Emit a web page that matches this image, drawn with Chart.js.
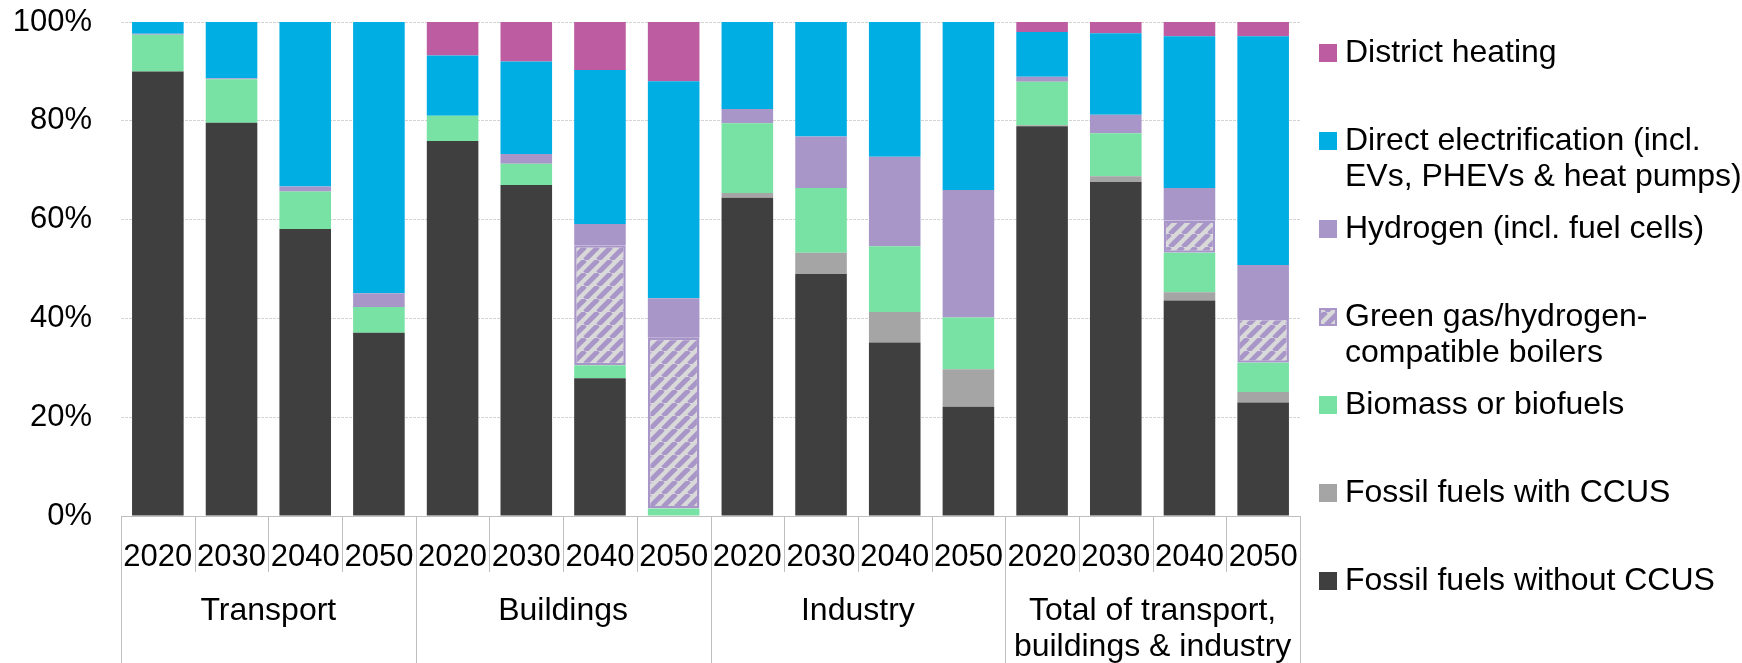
<!DOCTYPE html>
<html>
<head>
<meta charset="utf-8">
<script src="https://cdn.jsdelivr.net/npm/chart.js@4"></script>
<style>
  html, body { margin: 0; padding: 0; background: #fff; }
  canvas { display: block; }
</style>
</head>
<body>
<canvas id="myChart" width="1742" height="663"></canvas>
<script>
const years = ['2020', '2030', '2040', '2050'];
const sectors = ['Transport', 'Buildings', 'Industry', 'Total of transport,\nbuildings & industry'];

// shares in %, 4 years per sector, sectors in order above
const fossilNoCcus = [90.0, 79.6, 58.1, 37.1, 75.9, 67.0, 27.9, 0, 64.4, 49.0, 35.1, 22.1, 78.9, 67.6, 43.6, 23.0];
const fossilCcus = [0, 0, 0, 0, 0, 0, 0, 0, 1.0, 4.3, 6.2, 7.6, 0.2, 1.2, 1.7, 2.1];
const biomass = [7.4, 8.8, 7.6, 5.2, 5.1, 4.3, 2.6, 1.5, 14.1, 13.1, 13.3, 10.5, 8.8, 8.7, 8.0, 5.9];
const greenGas = [0, 0, 0, 0, 0, 0, 24.3, 34.6, 0, 0, 0, 0, 0, 0, 6.5, 9.1];
const hydrogen = [0.2, 0.2, 1.0, 2.8, 0, 2.0, 4.3, 8.0, 2.9, 10.4, 18.1, 25.8, 1.0, 3.7, 6.6, 10.7];
const electrification = [2.4, 11.4, 33.3, 54.9, 12.2, 18.7, 31.2, 43.9, 17.6, 23.2, 27.3, 34.0, 9.1, 16.5, 30.7, 46.3];
const districtHeating = [0, 0, 0, 0, 6.8, 8.0, 9.7, 12.0, 0, 0, 0, 0, 2.0, 2.3, 2.9, 2.9];

const yTicks = [0, 20, 40, 60, 80, 100];

const FONT = "'Liberation Sans', Arial, sans-serif";
const purple = '#a996c9';

// diagonal hatch for the boiler segment
function makeHatch() {
  const p = 13;
  const c = document.createElement('canvas');
  c.width = p; c.height = p;
  const g = c.getContext('2d');
  g.fillStyle = '#d9d9d9';
  g.fillRect(0, 0, p, p);
  g.strokeStyle = purple;
  g.lineWidth = 5;
  for (const x0 of [-p, 0, p]) {
    g.beginPath();
    g.moveTo(x0, p);
    g.lineTo(x0 + p, 0);
    g.stroke();
  }
  return g.createPattern(c, 'repeat');
}
const hatch = makeHatch();

const labels = [];
sectors.forEach(() => years.forEach(y => labels.push(y)));

const datasets = [
  { label: 'Fossil fuels without CCUS', data: fossilNoCcus, backgroundColor: '#3f3f3f' },
  { label: 'Fossil fuels with CCUS', data: fossilCcus, backgroundColor: '#a5a5a5' },
  { label: 'Biomass or biofuels', data: biomass, backgroundColor: '#77e2a3' },
  { label: 'Green gas/hydrogen-\ncompatible boilers', data: greenGas, backgroundColor: hatch,
    borderColor: purple, borderWidth: c => (c.raw > 0 ? 2.5 : 0), borderSkipped: false, hatched: true },
  { label: 'Hydrogen (incl. fuel cells)', data: hydrogen, backgroundColor: purple },
  { label: 'Direct electrification (incl.\nEVs, PHEVs & heat pumps)', data: electrification, backgroundColor: '#00aee3' },
  { label: 'District heating', data: districtHeating, backgroundColor: '#bd5ca0' }
];

// category separators under the axis and the sector names
const sectorAxis = {
  id: 'sectorAxis',
  afterDraw(chart) {
    const ctx = chart.ctx;
    const x = chart.scales.x;
    const bottom = chart.chartArea.bottom;
    const n = labels.length;
    const step = (x.right - x.left) / n;
    ctx.save();
    ctx.strokeStyle = '#bfbfbf';
    ctx.lineWidth = 1;
    for (let i = 0; i <= n; i++) {
      const px = Math.round(x.left + i * step) + 0.5;
      const end = i % years.length === 0 ? chart.height : bottom + 56;
      ctx.beginPath();
      ctx.moveTo(px, bottom);
      ctx.lineTo(px, end);
      ctx.stroke();
    }
    ctx.fillStyle = '#000';
    ctx.font = '32px ' + FONT;
    ctx.textAlign = 'center';
    ctx.textBaseline = 'middle';
    sectors.forEach((s, i) => {
      const cx = x.left + (i + 0.5) * years.length * step;
      s.split('\n').forEach((line, j) => {
        ctx.fillText(line, cx, bottom + 95 + j * 36);
      });
    });
    ctx.restore();
  }
};

// legend on the right, top entry = top of the stack
const sideLegend = {
  id: 'sideLegend',
  afterDraw(chart) {
    const ctx = chart.ctx;
    const items = chart.data.datasets.slice().reverse();
    const x0 = chart.chartArea.right + 19;
    ctx.save();
    ctx.font = '32px ' + FONT;
    ctx.textBaseline = 'middle';
    ctx.textAlign = 'left';
    items.forEach((ds, k) => {
      const cy = chart.chartArea.top + 31 + k * 88;
      ctx.fillStyle = ds.backgroundColor;
      ctx.fillRect(x0, cy - 9, 18, 18);
      if (ds.hatched) {
        ctx.strokeStyle = purple;
        ctx.lineWidth = 2;
        ctx.strokeRect(x0 + 1, cy - 8, 16, 16);
      }
      ctx.fillStyle = '#000';
      ds.label.split('\n').forEach((line, j) => {
        ctx.fillText(line, x0 + 26, cy + j * 36);
      });
    });
    ctx.restore();
  }
};

new Chart(document.getElementById('myChart'), {
  type: 'bar',
  data: { labels: labels, datasets: datasets },
  options: {
    responsive: false,
    animation: false,
    layout: { padding: { top: 22, right: 442, left: 0, bottom: 0 } },
    datasets: { bar: { categoryPercentage: 1, barPercentage: 0.7 } },
    plugins: { legend: { display: false }, tooltip: { enabled: false } },
    scales: {
      x: {
        stacked: true,
        grid: { display: false },
        border: { display: true, color: '#bfbfbf', width: 1 },
        ticks: { color: '#000', font: { family: FONT, size: 31 }, padding: 15, maxRotation: 0, autoSkip: false },
        afterFit(scale) { scale.height = 147; scale.paddingLeft = 0; scale.paddingRight = 0; }
      },
      y: {
        stacked: true,
        min: 0,
        max: 100,
        afterBuildTicks(scale) { scale.ticks = yTicks.map(v => ({ value: v })); },
        grid: { color: '#d4d4d4', drawTicks: false, borderDash: [3, 1] },
        border: { display: false, dash: [3, 1] },
        ticks: { color: '#000', font: { family: FONT, size: 31 }, padding: 29, callback: v => v + '%' },
        afterFit(scale) { scale.width = 121; scale.paddingTop = 0; scale.paddingBottom = 0; }
      }
    }
  },
  plugins: [sectorAxis, sideLegend]
});
</script>
</body>
</html>
